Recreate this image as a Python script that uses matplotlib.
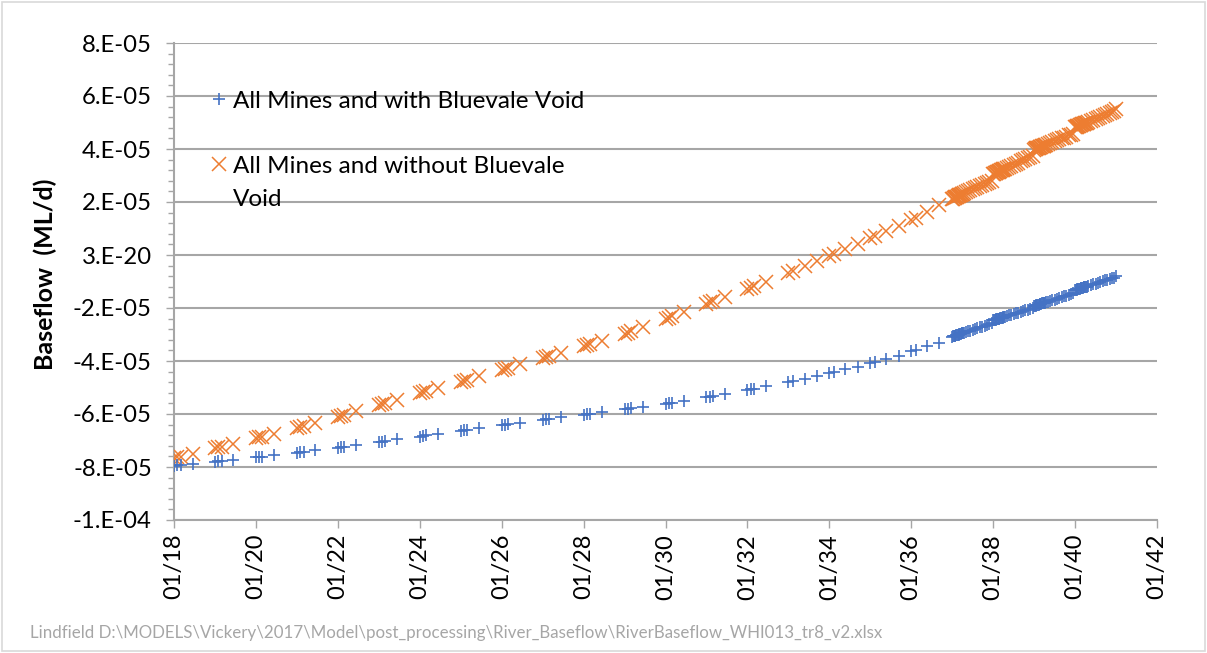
import datetime as dt
import matplotlib
matplotlib.use("Agg")
import matplotlib.pyplot as plt
import matplotlib.dates as mdates
from matplotlib.ticker import FixedLocator, FixedFormatter, MultipleLocator
from matplotlib.patches import Rectangle

# ---------------- data ----------------
UNIT = 1e-5  # values below are in units of 1e-5 ML/d

early_years = list(range(2018, 2033))
early_days = [0, 31, 59, 165]
mid_years = [2033, 2034, 2035, 2036]
mid_days = [0, 40, 144, 252]
dense_years = [2037, 2038, 2039, 2040]
dense_days = [0, 7, 14, 21, 28, 35, 42, 49, 56, 63, 70, 77, 84, 91, 98, 105,
              120, 141, 162, 183, 204, 225, 246, 267, 288, 309, 330, 351]
final_date = "2041-01-01"

blue_early = [
    -7.95, -7.94, -7.93, -7.88,
    -7.80, -7.79, -7.77, -7.73,
    -7.64, -7.62, -7.61, -7.56,
    -7.46, -7.44, -7.43, -7.37,
    -7.27, -7.25, -7.23, -7.17,
    -7.06, -7.04, -7.02, -6.96,
    -6.85, -6.83, -6.81, -6.75,
    -6.63, -6.61, -6.59, -6.53,
    -6.42, -6.40, -6.39, -6.33,
    -6.22, -6.20, -6.19, -6.13,
    -6.03, -6.01, -6.00, -5.94,
    -5.83, -5.81, -5.79, -5.73,
    -5.62, -5.60, -5.58, -5.51,
    -5.37, -5.34, -5.32, -5.24,
    -5.09, -5.06, -5.04, -4.95,
]
blue_mid = [
    -4.78, -4.75, -4.68, -4.57,
    -4.46, -4.40, -4.31, -4.22,
    -4.09, -4.05, -3.93, -3.80,
    -3.62, -3.58, -3.43, -3.31,
]
blue_dense = [
    -3.08, -3.07, -3.06, -3.05, -3.04, -3.03, -3.02, -3.01, -3.00, -2.99, -2.98, -2.97, -2.96, -2.95,
    -2.94, -2.93, -2.91, -2.88, -2.85, -2.82, -2.79, -2.76, -2.73, -2.70, -2.67, -2.64, -2.61, -2.58,
    -2.47, -2.46, -2.45, -2.44, -2.43, -2.42, -2.41, -2.41, -2.40, -2.39, -2.38, -2.37, -2.36, -2.35,
    -2.34, -2.33, -2.31, -2.28, -2.26, -2.23, -2.20, -2.17, -2.15, -2.12, -2.09, -2.06, -2.04, -2.01,
    -1.93, -1.92, -1.91, -1.90, -1.89, -1.88, -1.87, -1.86, -1.85, -1.84, -1.83, -1.82, -1.81, -1.81,
    -1.80, -1.79, -1.77, -1.74, -1.71, -1.68, -1.65, -1.62, -1.59, -1.56, -1.54, -1.51, -1.48, -1.45,
    -1.33, -1.32, -1.31, -1.30, -1.29, -1.28, -1.27, -1.26, -1.25, -1.24, -1.23, -1.22, -1.21, -1.21,
    -1.20, -1.19, -1.17, -1.14, -1.11, -1.08, -1.05, -1.02, -0.99, -0.96, -0.94, -0.91, -0.88, -0.85,
]
blue_final = -0.80

orange_early = [
    -7.67, -7.64, -7.61, -7.50,
    -7.29, -7.26, -7.23, -7.12,
    -6.92, -6.88, -6.85, -6.74,
    -6.52, -6.48, -6.45, -6.33,
    -6.10, -6.06, -6.03, -5.90,
    -5.66, -5.62, -5.59, -5.46,
    -5.22, -5.18, -5.15, -5.02,
    -4.78, -4.74, -4.70, -4.57,
    -4.33, -4.29, -4.25, -4.12,
    -3.88, -3.84, -3.81, -3.68,
    -3.44, -3.40, -3.36, -3.23,
    -2.98, -2.93, -2.88, -2.72,
    -2.42, -2.37, -2.32, -2.15,
    -1.84, -1.79, -1.74, -1.58,
    -1.28, -1.23, -1.18, -1.01,
]
orange_mid = [
    -0.69, -0.62, -0.43, -0.24,
    -0.04, 0.04, 0.23, 0.43,
    0.63, 0.71, 0.91, 1.11,
    1.32, 1.41, 1.64, 1.88,
]
orange_dense = [
    2.12, 2.13, 2.15, 2.16, 2.18, 2.19, 2.20, 2.22, 2.23, 2.25, 2.26, 2.27, 2.29, 2.30,
    2.31, 2.33, 2.36, 2.40, 2.44, 2.48, 2.52, 2.56, 2.61, 2.65, 2.69, 2.73, 2.77, 2.81,
    3.05, 3.06, 3.08, 3.09, 3.11, 3.12, 3.13, 3.15, 3.16, 3.18, 3.19, 3.20, 3.22, 3.23,
    3.24, 3.26, 3.29, 3.33, 3.37, 3.41, 3.45, 3.49, 3.54, 3.58, 3.62, 3.66, 3.70, 3.74,
    3.98, 3.99, 4.00, 4.02, 4.03, 4.04, 4.05, 4.06, 4.08, 4.09, 4.10, 4.11, 4.12, 4.13,
    4.15, 4.16, 4.18, 4.22, 4.26, 4.29, 4.33, 4.36, 4.40, 4.43, 4.47, 4.51, 4.54, 4.58,
    4.82, 4.83, 4.84, 4.86, 4.87, 4.88, 4.89, 4.90, 4.92, 4.93, 4.94, 4.95, 4.96, 4.97,
    4.99, 5.00, 5.02, 5.06, 5.10, 5.13, 5.17, 5.20, 5.24, 5.27, 5.31, 5.35, 5.38, 5.42,
]
orange_final = 5.52

series_labels = ["All Mines and with Bluevale Void", "All Mines and without Bluevale", "Void"]
y_ticks = [8e-5, 6e-5, 4e-5, 2e-5, 0.0, -2e-5, -4e-5, -6e-5, -8e-5, -1e-4]
y_tick_labels = ["8.E-05", "6.E-05", "4.E-05", "2.E-05", "3.E-20",
                 "-2.E-05", "-4.E-05", "-6.E-05", "-8.E-05", "-1.E-04"]
x_tick_years = list(range(2018, 2043, 2))
y_label = "Baseflow  (ML/d)"
footer = r"Lindfield D:\MODELS\Vickery\2017\Model\post_processing\River_Baseflow\RiverBaseflow_WHI013_tr8_v2.xlsx"

# ---------------- build dates ----------------
def build_dates(years, days):
    return [dt.datetime(y, 1, 1) + dt.timedelta(days=d) for y in years for d in days]

dates = (build_dates(early_years, early_days) + build_dates(mid_years, mid_days)
         + build_dates(dense_years, dense_days) + [dt.datetime.fromisoformat(final_date)])
blue = [v * UNIT for v in blue_early + blue_mid + blue_dense + [blue_final]]
orange = [v * UNIT for v in orange_early + orange_mid + orange_dense + [orange_final]]

# ---------------- plot ----------------
plt.rcParams['font.family'] = ['Lato', 'DejaVu Sans']
BLUE = '#4472C4'
ORANGE = '#ED7D31'
GRID = '#a6a6a6'

fig = plt.figure(figsize=(12.07, 6.53), dpi=100)
ax = fig.add_axes([174 / 1207, 1 - 520 / 653, (1157 - 174) / 1207, (520 - 43) / 653])

ax.plot(dates, orange, linestyle='none', marker='x', ms=10, mew=1.1, color=ORANGE,
        label=series_labels[1], zorder=3)
ax.plot(dates, blue, linestyle='none', marker='+', ms=8.5, mew=1.2, color=BLUE,
        label=series_labels[0], zorder=4)

ax.set_xlim(dt.datetime(2018, 1, 1), dt.datetime(2042, 1, 1))
ax.set_ylim(-1e-4, 8e-5)

ax.xaxis.set_major_locator(FixedLocator([mdates.date2num(dt.datetime(y, 1, 1)) for y in x_tick_years]))
ax.xaxis.set_major_formatter(mdates.DateFormatter('%m/%y'))
ax.yaxis.set_major_locator(FixedLocator(y_ticks))
ax.yaxis.set_major_formatter(FixedFormatter(y_tick_labels))
ax.yaxis.set_minor_locator(MultipleLocator(4e-6))

ax.tick_params(axis='x', which='major', direction='out', length=6, width=1, color=GRID,
               labelsize=17, labelrotation=90, pad=4, labelcolor='black')
ax.tick_params(axis='y', which='major', direction='out', length=6, width=1, color=GRID,
               labelsize=17.2, pad=10, labelcolor='black')
ax.tick_params(axis='y', which='minor', direction='out', length=4, width=1, color=GRID)

ax.grid(True, axis='y', which='major', color=GRID, linewidth=1.5)
ax.set_axisbelow(True)
for s in ['top', 'right']:
    ax.spines[s].set_visible(False)
for s in ['left', 'bottom']:
    ax.spines[s].set_color(GRID)
    ax.spines[s].set_linewidth(1.5)

ax.set_ylabel(y_label, fontsize=18, fontweight='bold')
ax.yaxis.set_label_coords(-0.119, 0.515)

# legend
handles, labels = ax.get_legend_handles_labels()
leg = ax.legend(handles[::-1], labels[::-1], loc='upper left', bbox_to_anchor=(0.027, 0.92),
                frameon=False, fontsize=17.5, handlelength=0.7, handletextpad=0.25,
                labelspacing=1.8, borderaxespad=0)
fig.canvas.draw()
t2 = leg.get_texts()[1]
bb = t2.get_window_extent(fig.canvas.get_renderer())
inv = fig.transFigure.inverted()
x0, y0 = inv.transform((bb.x0, bb.y0))
fig.text(x0, y0 - 12 / 653, series_labels[2], fontsize=17.5, ha='left', va='top')

fig.text(30 / 1207, 1 - 633 / 653, footer, fontsize=12.2, color='#a6a6a6', va='center', ha='left')
fig.add_artist(Rectangle((0.0015, 0.003), 0.997, 0.994, transform=fig.transFigure,
                         fill=False, ec='#d9d9d9', lw=1.2))

fig.savefig('out.png', dpi=100)
